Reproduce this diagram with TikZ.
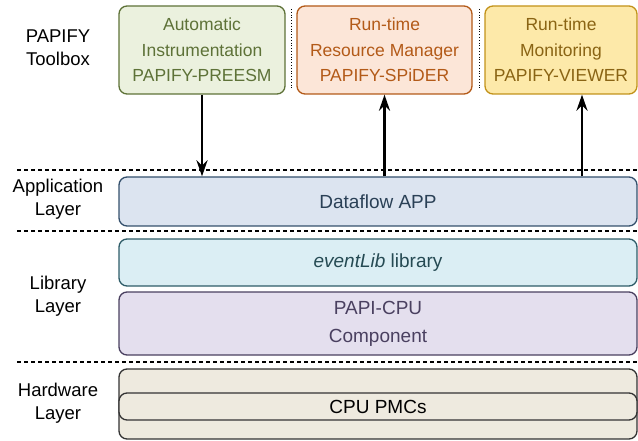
\documentclass[tikz,border=0pt]{standalone}
\usepackage{fontspec}
\setmainfont{Liberation Sans}
\usetikzlibrary{arrows.meta,positioning}

\definecolor{greenfill}{HTML}{EBF1DE}
\definecolor{greendraw}{HTML}{5E7238}
\definecolor{orangefill}{HTML}{FCE6D8}
\definecolor{orangedraw}{HTML}{B35A18}
\definecolor{yellowfill}{HTML}{FDE9A9}
\definecolor{yellowdraw}{HTML}{C2921A}
\definecolor{yellowtext}{HTML}{8A6414}
\definecolor{appfill}{HTML}{DCE4F0}
\definecolor{appdraw}{HTML}{34506C}
\definecolor{libfill}{HTML}{DBEEF4}
\definecolor{libdraw}{HTML}{2E5C68}
\definecolor{papifill}{HTML}{E4DFEE}
\definecolor{papidraw}{HTML}{4A4060}
\definecolor{hwfill}{HTML}{EEEADF}
\definecolor{hwdraw}{HTML}{333333}

\begin{document}
\begin{tikzpicture}[x=1pt,y=-1pt]

    \def \boxleft {119}
    \def \boxright {637}
    \def \boxwidth {518pt}

    \tikzset{tool/.style={draw,rounded corners=8pt,line width=1.3pt,align=center,
        minimum height=88pt,inner sep=0pt,font=\fontsize{17.5}{25.5}\selectfont}}
    \tikzset{layer/.style={draw,rounded corners=8pt,line width=1.3pt,align=center,
        minimum width=\boxwidth,inner sep=0pt,font=\fontsize{19}{28}\selectfont}}
    \tikzset{side/.style={align=center,font=\fontsize{18.5}{23}\selectfont}}
    \tikzset{sep/.style={dash pattern=on 4pt off 3pt,line width=1.2pt}}
    \tikzset{flow/.style={-{Stealth[length=16pt,width=11pt]},line width=2.6pt}}

    \useasboundingbox (0,0) rectangle (638,441);

    % Toolbox
    \node (toolbox) at (58,48) [side] {PAPIFY\\Toolbox};
    \node (preesm) at (202,50) [tool,minimum width=166pt,fill=greenfill,draw=greendraw,text=greendraw]
        {Automatic\\Instrumentation\\PAPIFY-PREESM};
    \node (spider) at (384.5,50) [tool,minimum width=175pt,fill=orangefill,draw=orangedraw,text=orangedraw]
        {Run-time\\Resource Manager\\PAPIFY-SPiDER};
    \node (viewer) at (561,50) [tool,minimum width=152pt,fill=yellowfill,draw=yellowdraw,text=yellowtext]
        {Run-time\\Monitoring\\PAPIFY-VIEWER};
    \foreach \x in {291,479}
        \draw[dotted,line width=0.8pt] (\x,9) -- (\x,90);

    % Layers
    \node (app) at (378,201.5) [layer,minimum height=49pt,fill=appfill,draw=appdraw,text=appdraw!80!black]
        {Dataflow APP};
    \node (eventlib) at (378,262.5) [layer,minimum height=47pt,fill=libfill,draw=libdraw,text=libdraw!80!black]
        {\textit{eventLib} library};
    \node (papi) at (378,323.5) [layer,minimum height=63pt,fill=papifill,draw=papidraw,text=papidraw]
        {PAPI-CPU\\Component};
    \node (hw) at (378,404) [layer,minimum height=70pt,fill=hwfill,draw=hwdraw] {};
    \node (pmc) at (378,406.5) [layer,minimum height=27pt,fill=hwfill,draw=hwdraw] {CPU PMCs};

    \node (applabel) at (58,199) [side] {Application\\Layer};
    \node (liblabel) at (58,296) [side] {Library\\Layer};
    \node (hwlabel) at (58,403) [side] {Hardware\\Layer};

    % Separators
    \foreach \y in {170,231,362}
        \draw[sep] (17,\y) -- (638,\y);

    % Draw arrows
    \draw[flow] (preesm.south) -- (preesm.south |- app.north);
    \draw[flow] (app.north -| spider.south) -- (spider.south);
    \coordinate (mon) at (582,0);
    \draw[flow] (app.north -| mon) -- (viewer.south -| mon);

\end{tikzpicture}
\end{document}
